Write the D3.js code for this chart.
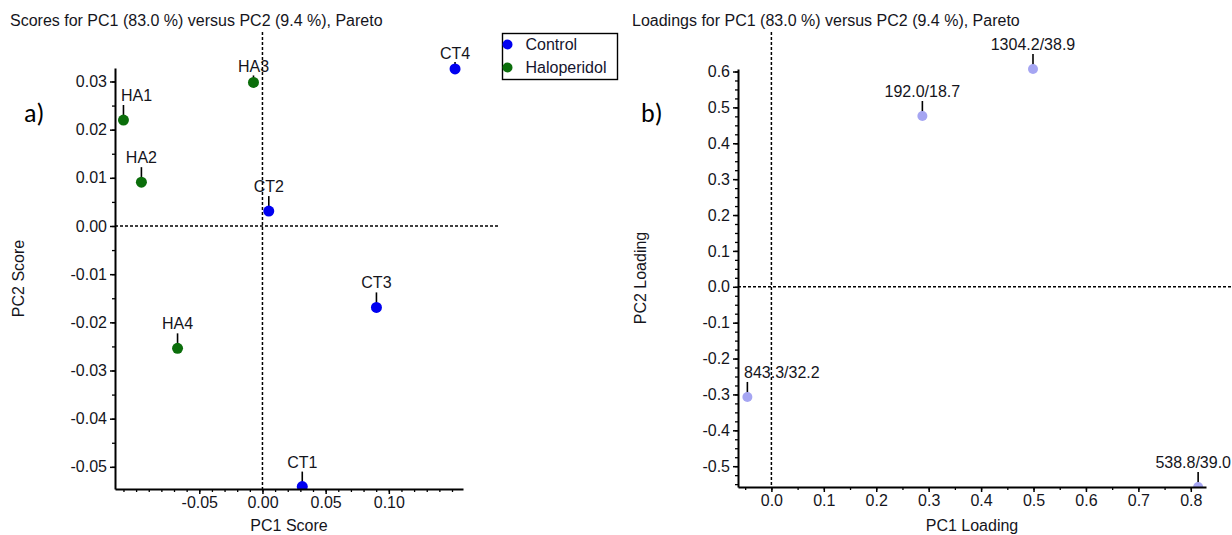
<!DOCTYPE html>
<html>
<head>
<meta charset="utf-8">
<script src="https://cdn.jsdelivr.net/npm/d3@7"></script>
<style>
  body { margin: 0; background: #fff; }
  svg { display: block; font-family: "Liberation Sans", Arial, sans-serif; }
  .tick text { font-size: 16px; fill: #15151c; }
  .axis path, .axis line { stroke: #000; }
</style>
</head>
<body>
<script>
// groups
const groups = ['Control', 'Haloperidol'];
const groupColors = ['#0000f0', '#0b6e0b'];

// scores plot (a)
const sampleNames = ['HA1', 'HA2', 'HA3', 'HA4', 'CT1', 'CT2', 'CT3', 'CT4'];
const sampleGroups = ['Haloperidol', 'Haloperidol', 'Haloperidol', 'Haloperidol', 'Control', 'Control', 'Control', 'Control'];
const scorePC1 = [-0.110, -0.0958, -0.0071, -0.0672, 0.0315, 0.0050, 0.0902, 0.1524];
const scorePC2 = [0.0220, 0.0091, 0.0298, -0.0254, -0.0541, 0.0031, -0.0169, 0.0326];
const scoreXTicks = [-0.05, 0, 0.05, 0.10];
const scoreYTicks = [0.03, 0.02, 0.01, 0, -0.01, -0.02, -0.03, -0.04, -0.05];

// loadings plot (b)
const loadingNames = ['192.0/18.7', '1304.2/38.9', '843.3/32.2', '538.8/39.0'];
const loadingPC1 = [0.288, 0.499, -0.0458, 0.814];
const loadingPC2 = [0.476, 0.607, -0.307, -0.558];
const loadingXTicks = [0, 0.1, 0.2, 0.3, 0.4, 0.5, 0.6, 0.7, 0.8];
const loadingYTicks = [0.6, 0.5, 0.4, 0.3, 0.2, 0.1, 0, -0.1, -0.2, -0.3, -0.4, -0.5];

// labels drawn close to their point
const shortLeaders = ['HA3', 'CT4'];

const width = 1232, height = 535;

const svg = d3.select('body')
	.append('svg')
	.attr('width', width)
	.attr('height', height);

const hyphen = f => d => f(d).replace('\u2212', '-');

function drawPanel(cfg) {
	const g = svg.append('g');
	const f = cfg.frame;

	const x = d3.scaleLinear().domain(cfg.xDomain).range([f.left, f.right]);
	const y = d3.scaleLinear().domain(cfg.yDomain).range([f.bottom, f.top]);

	// zero lines
	g.append('line')
		.attr('x1', f.left).attr('x2', f.plotRight)
		.attr('y1', y(0)).attr('y2', y(0))
		.attr('stroke', '#000').attr('stroke-width', 1.5)
		.attr('stroke-dasharray', '3,2');
	g.append('line')
		.attr('x1', x(0)).attr('x2', x(0))
		.attr('y1', f.plotTop).attr('y2', f.bottom)
		.attr('stroke', '#000').attr('stroke-width', 1.5)
		.attr('stroke-dasharray', '3,2');

	// minor ticks
	g.append('g')
		.attr('class', 'axis')
		.attr('transform', `translate(0, ${f.bottom})`)
		.call(d3.axisBottom(x).tickValues(cfg.xMinor).tickSize(3).tickFormat(''))
		.call(s => s.select('.domain').remove())
		.call(s => s.selectAll('.tick line').attr('stroke-width', 1.3));
	g.append('g')
		.attr('class', 'axis')
		.attr('transform', `translate(${f.left}, 0)`)
		.call(d3.axisLeft(y).tickValues(cfg.yMinor).tickSize(3).tickFormat(''))
		.call(s => s.select('.domain').remove())
		.call(s => s.selectAll('.tick line').attr('stroke-width', 1.3));

	// points
	const clipId = 'clip-' + cfg.tag[0];
	g.append('clipPath').attr('id', clipId)
		.append('rect')
		.attr('x', f.left)
		.attr('y', f.plotTop - 30)
		.attr('width', width - f.left)
		.attr('height', f.bottom - f.plotTop + 30);

	const pts = g.append('g').attr('clip-path', `url(#${clipId})`);

	const marks = pts.selectAll('.pt')
		.data(cfg.points)
		.enter().append('g')
		.attr('class', 'pt');

	marks.append('line')
		.attr('x1', d => x(d.x)).attr('x2', d => x(d.x))
		.attr('y1', d => y(d.y) - (shortLeaders.includes(d.name) ? 7 : 15))
		.attr('y2', d => y(d.y) - 3)
		.attr('stroke', '#000')
		.attr('stroke-width', 1.6);

	marks.append('circle')
		.attr('cx', d => x(d.x))
		.attr('cy', d => y(d.y))
		.attr('r', cfg.radius)
		.attr('fill', d => d.color);

	marks.append('text')
		.attr('x', d => x(d.x))
		.attr('y', d => y(d.y) - (shortLeaders.includes(d.name) ? 10 : 19))
		.attr('text-anchor', 'middle')
		.style('font-size', '16px')
		.attr('fill', '#15151c')
		.text(d => d.name)
		.each(function(d) {
			const w = this.getComputedTextLength();
			const cx = x(d.x);
			if (cx - w / 2 < f.left + 6) {
				d3.select(this).attr('text-anchor', 'start').attr('x', f.left + 6);
			} else if (cx + w / 2 > width - 1) {
				d3.select(this).attr('text-anchor', 'end').attr('x', width - 1);
			}
		});

	// axes
	g.append('g')
		.attr('class', 'axis')
		.attr('transform', `translate(0, ${f.bottom})`)
		.call(d3.axisBottom(x).tickValues(cfg.xTicks).tickSize(5).tickSizeOuter(0)
			.tickPadding(3).tickFormat(hyphen(d3.format(cfg.fmt))))
		.call(s => s.select('.domain').attr('stroke-width', 2))
		.call(s => s.selectAll('.tick line').attr('stroke-width', 1.5));

	g.append('g')
		.attr('class', 'axis')
		.attr('transform', `translate(${f.left}, 0)`)
		.call(d3.axisLeft(y).tickValues(cfg.yTicks).tickSize(5).tickSizeOuter(0)
			.tickPadding(3).tickFormat(hyphen(d3.format(cfg.fmt))))
		.call(s => s.select('.domain').attr('stroke-width', 2))
		.call(s => s.selectAll('.tick line').attr('stroke-width', 1.5));

	g.selectAll('.axis text').style('font-family', null);

	// titles and labels
	g.append('text')
		.attr('x', cfg.titleX)
		.attr('y', 26)
		.style('font-size', '16px')
		.attr('fill', '#15151c')
		.text(cfg.title);

	g.append('text')
		.attr('x', (f.left + f.right) / 2)
		.attr('y', 531)
		.attr('text-anchor', 'middle')
		.style('font-size', '16px')
		.attr('fill', '#15151c')
		.text(cfg.xLabel);

	g.append('text')
		.attr('transform', `translate(${cfg.yLabelX}, ${(f.top + f.bottom) / 2}) rotate(-90)`)
		.attr('text-anchor', 'middle')
		.style('font-size', '16px')
		.attr('fill', '#15151c')
		.text(cfg.yLabel);

	g.append('text')
		.attr('x', cfg.tagX)
		.attr('y', 122)
		.style('font-family', 'Carlito, Calibri, "Open Sans", sans-serif')
		.style('font-size', '26px')
		.attr('fill', '#000')
		.text(cfg.tag);
}

drawPanel({
	tag: 'a)', tagX: 24,
	title: 'Scores for PC1 (83.0 %) versus PC2 (9.4 %), Pareto', titleX: 10,
	xLabel: 'PC1 Score', yLabel: 'PC2 Score', yLabelX: 24,
	frame: { left: 115, right: 463, top: 68, bottom: 489, plotRight: 500, plotTop: 32 },
	xDomain: [-0.1167, 0.1587], yDomain: [-0.0546, 0.0328],
	xTicks: scoreXTicks, yTicks: scoreYTicks,
	xMinor: d3.range(-11, 16).map(i => i * 0.01),
	yMinor: d3.range(-10, 7).map(i => i * 0.005),
	fmt: '.2f', radius: 5.5,
	points: sampleNames.map((name, i) => ({
		name: name,
		x: scorePC1[i],
		y: scorePC2[i],
		color: groupColors[groups.indexOf(sampleGroups[i])]
	}))
});

drawPanel({
	tag: 'b)', tagX: 641,
	title: 'Loadings for PC1 (83.0 %) versus PC2 (9.4 %), Pareto', titleX: 632,
	xLabel: 'PC1 Loading', yLabel: 'PC2 Loading', yLabelX: 646,
	frame: { left: 738, right: 1206, top: 69, bottom: 487, plotRight: 1232, plotTop: 32 },
	xDomain: [-0.0637, 0.829], yDomain: [-0.558, 0.607],
	xTicks: loadingXTicks, yTicks: loadingYTicks,
	xMinor: d3.range(-1, 17).map(i => i * 0.05),
	yMinor: d3.range(-22, 25).map(i => i * 0.025),
	fmt: '.1f', radius: 5,
	points: loadingNames.map((name, i) => ({
		name: name,
		x: loadingPC1[i],
		y: loadingPC2[i],
		color: '#a5a5f2'
	}))
});

// legend
const legend = svg.append('g').attr('class', 'legend');

legend.append('rect')
	.attr('x', 502.5).attr('y', 33.5)
	.attr('width', 115).attr('height', 46)
	.attr('fill', '#fff')
	.attr('stroke', '#000')
	.attr('stroke-width', 1.4);

const legendEntries = legend.selectAll('.legend-entry')
	.data(groups)
	.enter().append('g')
	.attr('class', 'legend-entry')
	.attr('transform', (d, i) => `translate(507.5, ${44.5 + i * 23})`);

legendEntries.append('circle')
	.attr('r', 5)
	.attr('fill', (d, i) => groupColors[i]);

legendEntries.append('text')
	.attr('x', 18)
	.attr('y', 5.5)
	.style('font-size', '16px')
	.attr('fill', '#15152e')
	.text(d => d);
</script>
</body>
</html>
